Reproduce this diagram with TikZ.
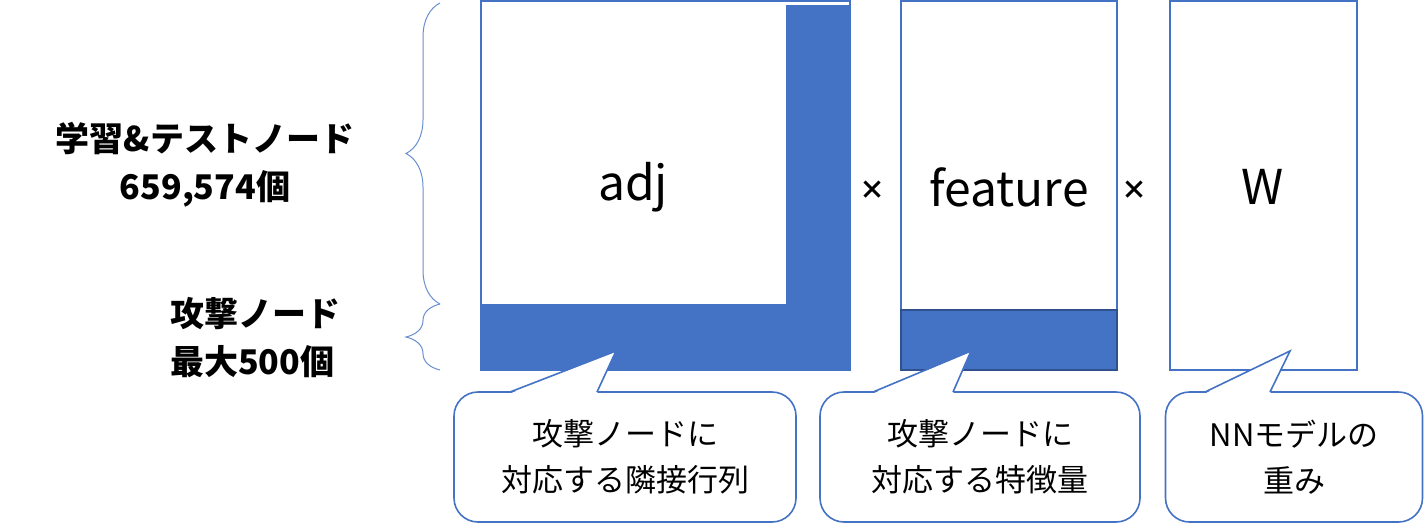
\documentclass[tikz,border=0pt]{standalone}
\usepackage{fontspec}
\setmainfont{Noto Sans CJK JP}
\usetikzlibrary{decorations.pathreplacing}
\definecolor{msblue}{HTML}{4472C4}
\definecolor{msdark}{HTML}{2F528F}
\tikzset{
  mat/.style={draw=msblue,line width=1pt,fill=white},
  blk/.style={fill=msblue},
  lbl/.style={font=\fontsize{24}{28}\selectfont},
  side/.style={font=\bfseries\fontsize{17}{24}\selectfont,align=center},
  note/.style={draw=msblue,line width=0.8pt,fill=white,rounded corners=12pt,align=center,
    font=\fontsize{15.5}{23}\selectfont},
  brc/.style={draw=msblue!80,line width=0.5pt,decorate,decoration={brace,amplitude=17pt}},
}
\begin{document}
\begin{tikzpicture}[x=0.5pt,y=-0.5pt]
\useasboundingbox (0,0) rectangle (1427,531);

% matrices
\draw[mat] (481,1) rectangle (850,370);
\fill[blk] (786,5) rectangle (850,370);
\fill[blk] (481,304) rectangle (850,370);
\node[lbl] (adj) at (633,187) {adj};
\draw[mat] (901,1) rectangle (1117,370);
\draw[blk,draw=msdark,line width=1pt] (901,310) rectangle (1117,370);
\node[lbl] (feat) at (1009,187) {feature};
\draw[mat] (1170,1) rectangle (1357,370);
\node[lbl] (w) at (1263,187) {W};
\node[font=\bfseries\fontsize{13}{15}\selectfont] (x1) at (872,190) {×};
\node[font=\bfseries\fontsize{13}{15}\selectfont] (x2) at (1134,190) {×};

% braces and labels
\draw[brc] (440,304) -- (440,3);
\draw[brc,decoration={amplitude=17pt,aspect=0.5}] (440,370) -- (440,304);
\node[side] (train) at (205,165) {学習\&テストノード\\659,574個};
\node[side,align=left] (atk) at (255,338) {攻撃ノード\\最大500個};

% callouts
\node[note,minimum width=342pt*0.5,minimum height=130pt*0.5] (c1) at (625,457) {攻撃ノードに\\対応する隣接行列};
\node[note,minimum width=320pt*0.5,minimum height=130pt*0.5] (c2) at (980,457) {攻撃ノードに\\対応する特徴量};
\node[note,minimum width=257pt*0.5,minimum height=130pt*0.5] (c3) at (1294,457) {NNモデルの\\重み};
\coordinate (t1) at (616,351);
\coordinate (t2) at (971,351);
\coordinate (t3) at (1290,351);
\fill[white] (510,393.5) -- (t1) -- (597,393.5) -- cycle;
\draw[msblue,line width=0.8pt] (510,392) -- (t1) -- (597,392);
\fill[white] (873,393.5) -- (t2) -- (953,393.5) -- cycle;
\draw[msblue,line width=0.8pt] (873,392) -- (t2) -- (953,392);
\fill[white] (1205,393.5) -- (t3) -- (1270,393.5) -- cycle;
\draw[msblue,line width=0.8pt] (1205,392) -- (t3) -- (1270,392);
\end{tikzpicture}
\end{document}
